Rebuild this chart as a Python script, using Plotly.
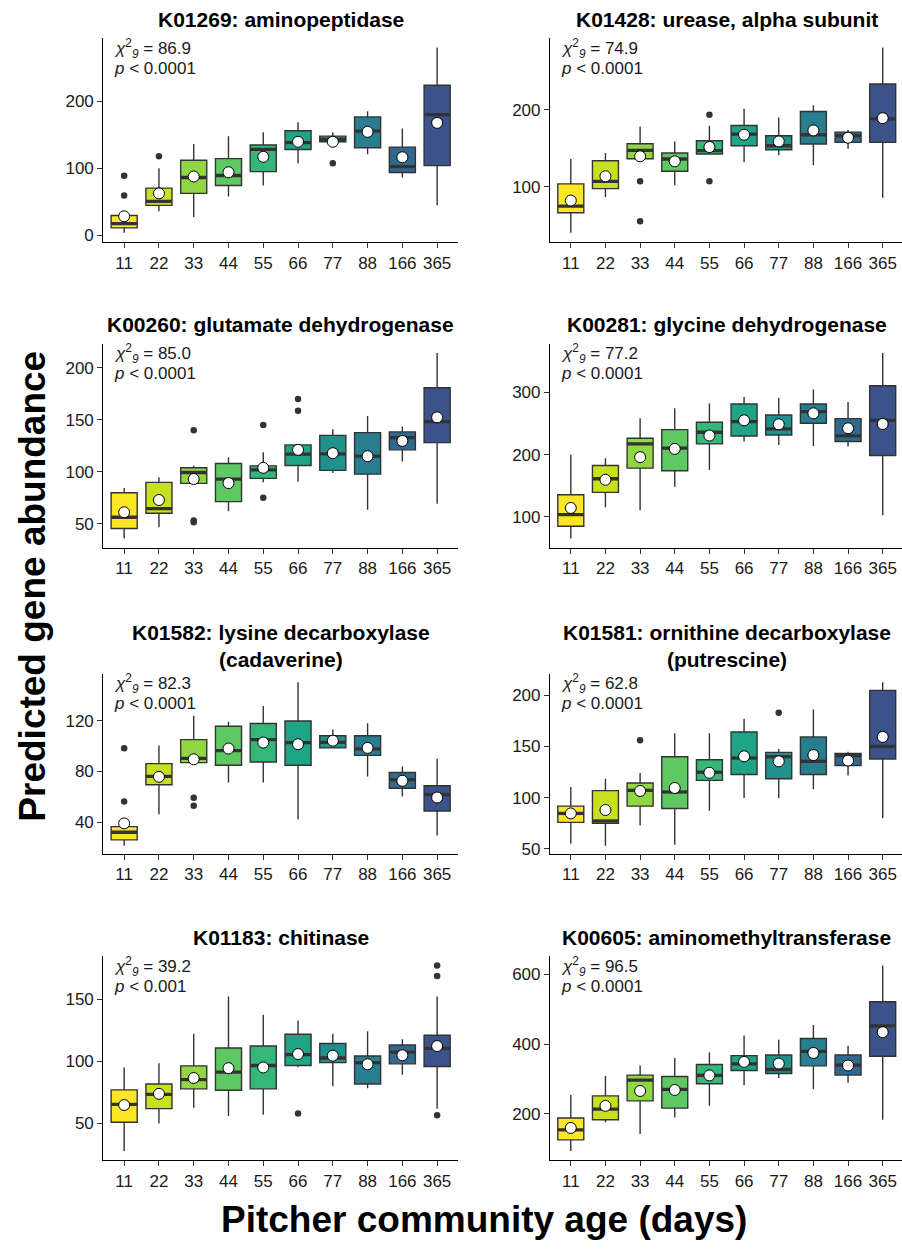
import plotly.graph_objects as go

# ---------------------------------------------------------------------------
# Data: five-number summaries, means and outliers per pitcher age (days)
# ---------------------------------------------------------------------------
AGES = ["11", "22", "33", "44", "55", "66", "77", "88", "166", "365"]

# K01269: aminopeptidase
k01269_lo = [4, 36, 27.6, 58, 74.4, 107.4, 139.4, 120.7, 86.2, 44.8]
k01269_q1 = [11.3, 44.8, 62.6, 74.4, 95, 128, 139.4, 130.5, 93.6, 103.9]
k01269_med = [17.7, 50.7, 86.2, 89.2, 128, 138, 142.9, 155.2, 102.5, 179.8]
k01269_q3 = [29.6, 70.4, 111.8, 114.3, 134.5, 155.7, 147.8, 176.4, 131.5, 223.6]
k01269_hi = [32, 100, 136, 147.8, 153.7, 168.5, 153.7, 184.7, 159, 279.8]
k01269_mean = [28.5, 62.6, 87.7, 94, 117, 139.4, 139.4, 154.2, 116.3, 167.5]
k01269_out_age = ["11", "11", "22", "77"]
k01269_out_val = [59.6, 88.7, 118, 107.4]

# K01428: urease, alpha subunit
k01428_lo = [40.5, 87, 136.6, 102, 142.7, 131.9, 141, 128, 149.6, 85.8]
k01428_q1 = [66.4, 97.8, 136.6, 120.3, 142.7, 153.4, 148.3, 155.6, 157.8, 157.8]
k01428_med = [75, 107.3, 147.4, 136.2, 147, 168.5, 153.4, 167.7, 166.4, 188.4]
k01428_q3 = [103.9, 134, 156, 144, 159.9, 179.7, 166.4, 197.8, 171.1, 233.6]
k01428_hi = [136.2, 144, 178.4, 159, 179.3, 201.3, 190, 206, 174, 281]
k01428_mean = [82.3, 113.8, 139.7, 133.2, 151.7, 167.7, 159, 173.3, 163.8, 189.2]
k01428_out_age = ["33", "33", "55", "55"]
k01428_out_val = [107.3, 55.6, 107.3, 193.5]

# K00260: glutamate dehydrogenase
k00260_lo = [35.6, 46.5, 88.7, 61.8, 89.7, 90.3, 98.6, 63.4, 109.8, 69.2]
k00260_q1 = [45.2, 59.9, 88.7, 71.1, 93.5, 106, 101.2, 97.6, 121, 128]
k00260_med = [56.1, 64.4, 99.2, 92.9, 101.8, 116.8, 117.2, 114.9, 132.8, 148.2]
k00260_q3 = [79.7, 89.7, 103.7, 107.9, 105.6, 125.8, 135, 137.6, 138.3, 180.8]
k00260_hi = [84.2, 94.5, 105.6, 114, 118.8, 125.8, 140.8, 153.6, 143.4, 214.4]
k00260_mean = [60.9, 72.7, 92.9, 89, 103.7, 121, 117.8, 114.9, 129.6, 152.3]
k00260_out_age = ["33", "33", "33", "55", "55", "66", "66"]
k00260_out_val = [139.9, 52.9, 51.3, 145, 74.9, 169.9, 158.7]

# K00281: glycine dehydrogenase
k00281_lo = [65.3, 115.5, 110.7, 148.5, 175.2, 221, 215.7, 214.1, 213.1, 102.7]
k00281_q1 = [85.1, 139.5, 178.4, 174.1, 217.3, 230.1, 231.7, 250.4, 221.1, 198.7]
k00281_med = [103.7, 161.3, 217.3, 210.4, 236, 253.1, 241.3, 269.1, 230.1, 255.2]
k00281_q3 = [135.7, 182.7, 226.4, 240.3, 252, 281.3, 263.7, 281.3, 257.9, 310.7]
k00281_hi = [199.7, 194.4, 258.4, 274.4, 282.4, 292.5, 291.5, 304.8, 284.5, 363.5]
k00281_mean = [114.4, 159.7, 196, 209.3, 230.7, 255.2, 248.8, 266.4, 242.4, 249.3]
k00281_out_age = []
k00281_out_val = []

# K01582: lysine decarboxylase (cadaverine)
k01582_lo = [21.4, 46.2, 86.9, 71.3, 71.3, 42.3, 98.5, 76, 60.2, 29.4]
k01582_q1 = [26, 69.5, 86.9, 84.8, 87.4, 84.8, 98.5, 92.6, 66.7, 48.8]
k01582_med = [32, 76, 90.2, 96.4, 105, 102.7, 102.9, 97.7, 73.4, 61.7]
k01582_q3 = [36.4, 86.1, 105, 115.6, 117.7, 119.7, 108.1, 108.1, 79.1, 68.7]
k01582_hi = [36.4, 100.3, 123.9, 119.2, 131.6, 150.3, 113, 117.9, 83.8, 90]
k01582_mean = [39, 75.7, 89.5, 98, 102.7, 101.4, 104.2, 98.5, 72.6, 59.4]
k01582_out_age = ["11", "11", "33", "33"]
k01582_out_val = [56.3, 98.3, 59.2, 52.9]

# K01581: ornithine decarboxylase (putrescine)
k01581_lo = [55.1, 53.2, 72.8, 54.2, 87.3, 99.8, 99.8, 108.2, 121.7, 79.9]
k01581_q1 = [76, 75.1, 91.8, 89.5, 116.9, 122.7, 118.5, 122.7, 131.4, 137.8]
k01581_med = [84.7, 77.3, 107.2, 105.6, 124.9, 138.7, 140, 135.5, 141, 150]
k01581_q3 = [91.8, 106.9, 114.3, 140, 137.1, 164.1, 144.2, 159.3, 143.2, 204.7]
k01581_hi = [110.5, 118.5, 124, 162.9, 162.9, 177, 147.4, 186, 144.9, 212.7]
k01581_mean = [84.7, 88, 106.6, 109.5, 124.3, 140.4, 135.5, 141.6, 136.2, 159.3]
k01581_out_age = ["33", "77"]
k01581_out_val = [156.1, 182.8]

# K01183: chitinase
k01183_lo = [27.8, 50, 62.7, 56, 56.9, 95.2, 79.9, 78.3, 89.2, 61.9]
k01183_q1 = [51, 61.9, 77.8, 76.7, 77.8, 96.6, 98.9, 81.7, 97.9, 95.8]
k01183_med = [65.3, 73.3, 85.2, 91.3, 96.6, 105.3, 102.6, 98.9, 107.4, 110.3]
k01183_q3 = [77, 81.7, 96.3, 110.6, 112.2, 121.7, 114.3, 104.2, 113, 120.9]
k01183_hi = [95, 98.4, 122.2, 152, 137.3, 132.8, 122.2, 124.1, 117.7, 152]
k01183_mean = [64.8, 73.8, 86.5, 94.4, 95, 105.8, 104.5, 97.6, 104.8, 112.2]
k01183_out_age = ["66", "365", "365", "365"]
k01183_out_val = [57.9, 177, 168.5, 56.6]

# K00605: aminomethyltransferase
k00605_lo = [92.9, 175.4, 142.2, 189.6, 222.7, 281.5, 302.4, 270.1, 289.1, 182.9]
k00605_q1 = [125.1, 182.9, 237, 216.1, 286.3, 324.2, 315.6, 337.4, 310.9, 364.9]
k00605_med = [153.6, 213.3, 296.7, 270.1, 310, 343.1, 327, 379.1, 339.3, 452.1]
k00605_q3 = [187.7, 251.2, 310.9, 307.1, 341.2, 366.8, 368.7, 416.1, 368.7, 521.3]
k00605_hi = [254, 308.1, 338.4, 360.2, 376.3, 424.6, 412.3, 455, 395.3, 625.6]
k00605_mean = [159.2, 222.7, 265.4, 268.2, 310, 348.8, 344.1, 374.4, 338.4, 434.1]
k00605_out_age = []
k00605_out_val = []

# Kruskal-Wallis results
CHI_SQ = ["86.9", "74.9", "85.0", "77.2", "82.3", "62.8", "39.2", "96.5"]
P_TEXT = ["0.0001", "0.0001", "0.0001", "0.0001", "0.0001", "0.0001", "0.001", "0.0001"]

TITLES = [
    "K01269: aminopeptidase",
    "K01428: urease, alpha subunit",
    "K00260: glutamate dehydrogenase",
    "K00281: glycine dehydrogenase",
    "K01582: lysine decarboxylase<br>(cadaverine)",
    "K01581: ornithine decarboxylase<br>(putrescine)",
    "K01183: chitinase",
    "K00605: aminomethyltransferase",
]

Y_DTICK = [100, 100, 50, 100, 40, 50, 50, 200]

# viridis, reversed, from yellow to blue
FILLS = ["#FDE725", "#C8E020", "#90D743", "#5EC962", "#35B779",
         "#20A486", "#21918C", "#287D8E", "#31688E", "#3B528B"]

SERIES = [
    (k01269_lo, k01269_q1, k01269_med, k01269_q3, k01269_hi, k01269_mean, k01269_out_age, k01269_out_val),
    (k01428_lo, k01428_q1, k01428_med, k01428_q3, k01428_hi, k01428_mean, k01428_out_age, k01428_out_val),
    (k00260_lo, k00260_q1, k00260_med, k00260_q3, k00260_hi, k00260_mean, k00260_out_age, k00260_out_val),
    (k00281_lo, k00281_q1, k00281_med, k00281_q3, k00281_hi, k00281_mean, k00281_out_age, k00281_out_val),
    (k01582_lo, k01582_q1, k01582_med, k01582_q3, k01582_hi, k01582_mean, k01582_out_age, k01582_out_val),
    (k01581_lo, k01581_q1, k01581_med, k01581_q3, k01581_hi, k01581_mean, k01581_out_age, k01581_out_val),
    (k01183_lo, k01183_q1, k01183_med, k01183_q3, k01183_hi, k01183_mean, k01183_out_age, k01183_out_val),
    (k00605_lo, k00605_q1, k00605_med, k00605_q3, k00605_hi, k00605_mean, k00605_out_age, k00605_out_val),
]

# ---------------------------------------------------------------------------
# Page geometry (pixels)
# ---------------------------------------------------------------------------
W, H = 902, 1252
COL_X = [(103.3, 458.0), (550.0, 903.5)]
ROW_Y = [(38.3, 243.0), (345.0, 550.0), (676.7, 857.3), (960.0, 1165.0)]
BOX_W = 0.75
FONT = "Liberation Sans, Arial, Helvetica, sans-serif"
INK = "#333333"

fig = go.Figure()
layout = dict(
    width=W, height=H,
    margin=dict(l=0, r=0, t=0, b=0),
    paper_bgcolor="white", plot_bgcolor="white",
    showlegend=False,
    font=dict(family=FONT, color="#1a1a1a"),
)
annotations = []

for k, (lo, q1, med, q3, hi, mean, out_age, out_val) in enumerate(SERIES):
    row, col = divmod(k, 2)
    x0, x1 = COL_X[col]
    top, bot = ROW_Y[row]
    xs = "" if k == 0 else str(k + 1)
    xa, ya = "x" + xs, "y" + xs

    pos = list(range(len(AGES)))
    idx = {a: i for i, a in enumerate(AGES)}

    # boxes
    for i in pos:
        fig.add_trace(go.Box(
            x=[i], q1=[q1[i]], median=[med[i]], q3=[q3[i]],
            lowerfence=[lo[i]], upperfence=[hi[i]],
            width=BOX_W, whiskerwidth=0, boxpoints=False,
            fillcolor=FILLS[i], line=dict(color=INK, width=1.4),
            hoverinfo="skip", xaxis=xa, yaxis=ya,
        ))

    # heavy median bars
    mx, my = [], []
    for i in pos:
        mx += [i - BOX_W / 2, i + BOX_W / 2, None]
        my += [med[i], med[i], None]
    fig.add_trace(go.Scatter(x=mx, y=my, mode="lines",
                             line=dict(color=INK, width=3.3),
                             hoverinfo="skip", xaxis=xa, yaxis=ya))

    # outliers
    if out_val:
        fig.add_trace(go.Scatter(x=[idx[a] for a in out_age], y=out_val,
                                 mode="markers",
                                 marker=dict(size=6.5, color=INK),
                                 hoverinfo="skip", xaxis=xa, yaxis=ya))

    # group means
    fig.add_trace(go.Scatter(x=pos, y=mean, mode="markers",
                             marker=dict(size=11, color="white",
                                         line=dict(color="black", width=1)),
                             hoverinfo="skip", xaxis=xa, yaxis=ya))

    # axes
    x1c = min(x1, W)
    span = (len(AGES) - 1) + 1.2
    xr = [-0.6, -0.6 + (x1c - x0) * span / (x1 - x0)]
    vals = lo + hi + list(out_val)
    vmin, vmax = min(vals), max(vals)
    pad = 0.05 * (vmax - vmin)
    axis_common = dict(
        showline=True, linecolor="black", linewidth=1.2,
        ticks="outside", ticklen=5, tickwidth=1.1, tickcolor=INK,
        showgrid=False, zeroline=False, fixedrange=True,
        tickfont=dict(size=17, color="#1a1a1a", family=FONT),
    )
    layout["xaxis" + xs] = dict(
        axis_common, domain=[x0 / W, x1c / W], anchor=ya, range=xr,
        tickmode="array", tickvals=pos, ticktext=AGES,
    )
    layout["yaxis" + xs] = dict(
        axis_common, domain=[1 - bot / H, 1 - top / H], anchor=xa,
        range=[vmin - pad, vmax + pad], tick0=0, dtick=Y_DTICK[k],
    )

    # panel title
    two_line = "<br>" in TITLES[k]
    annotations.append(dict(
        text="<b>" + TITLES[k] + "</b>", xref="paper", yref="paper",
        x=(x0 + x1) / 2 / W, y=1 - top / H,
        xanchor="center", yanchor="middle",
        yshift=28 if two_line else 19, showarrow=False,
        font=dict(size=21, color="black", family=FONT),
    ))

    # test statistic
    annotations.append(dict(
        text="<i>χ</i><sup>2</sup><sub><i>9</i></sub> = " + CHI_SQ[k],
        xref=xa + " domain", yref=ya + " domain", x=0, y=1,
        xanchor="left", yanchor="middle", xshift=9, yshift=-10,
        showarrow=False, font=dict(size=17, color="#1a1a1a", family=FONT),
    ))
    annotations.append(dict(
        text="<i>p</i> &lt; " + P_TEXT[k],
        xref=xa + " domain", yref=ya + " domain", x=0, y=1,
        xanchor="left", yanchor="middle", xshift=9, yshift=-30,
        showarrow=False, font=dict(size=17, color="#1a1a1a", family=FONT),
    ))

# shared axis titles
annotations.append(dict(
    text="<b>Predicted gene abundance</b>", xref="paper", yref="paper",
    x=33 / W, y=1 - 589 / H, textangle=-90,
    xanchor="center", yanchor="middle", showarrow=False,
    font=dict(size=37, color="black", family=FONT),
))
annotations.append(dict(
    text="<b>Pitcher community age (days)</b>", xref="paper", yref="paper",
    x=484 / W, y=1 - 1224 / H,
    xanchor="center", yanchor="middle", showarrow=False,
    font=dict(size=37, color="black", family=FONT),
))

layout["annotations"] = annotations
fig.update_layout(**layout)
fig.write_html("out.html")
